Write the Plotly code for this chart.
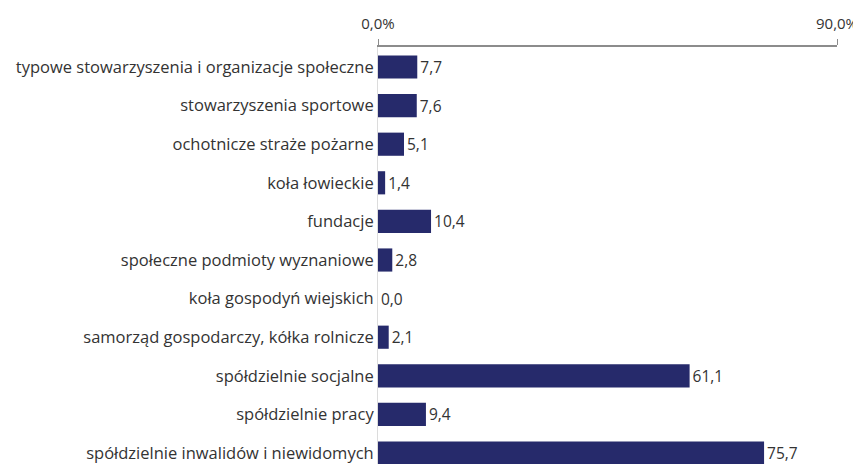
import plotly.graph_objects as go

categories = [
    "typowe stowarzyszenia i organizacje społeczne",
    "stowarzyszenia sportowe",
    "ochotnicze straże pożarne",
    "koła łowieckie",
    "fundacje",
    "społeczne podmioty wyznaniowe",
    "koła gospodyń wiejskich",
    "samorząd gospodarczy, kółka rolnicze",
    "spółdzielnie socjalne",
    "spółdzielnie pracy",
    "spółdzielnie inwalidów i niewidomych",
]
values = [7.7, 7.6, 5.1, 1.4, 10.4, 2.8, 0.0, 2.1, 61.1, 9.4, 75.7]
x_tick_vals = [0, 90]
x_tick_text = ["0,0%", "90,0%"]

labels = [f"{v:.1f}".replace(".", ",") for v in values]
idx = list(range(len(categories)))

FONT = "Open Sans"
TXT = "#333333"

fig = go.Figure(go.Bar(
    x=values,
    y=idx,
    orientation="h",
    marker=dict(color="#262A6B", line=dict(width=0)),
    width=0.6,
    text=labels,
    textposition="outside",
    textfont=dict(family=FONT, size=15.5, color=TXT),
    cliponaxis=False,
    hoverinfo="skip",
))

fig.update_layout(
    width=853,
    height=456,
    margin=dict(l=370, r=24, t=39, b=0, autoexpand=False),
    paper_bgcolor="white",
    plot_bgcolor="white",
    showlegend=False,
    font=dict(family=FONT, size=15, color=TXT),
    xaxis=dict(
        side="top",
        range=[0, 90],
        tickvals=x_tick_vals,
        ticktext=x_tick_text,
        showgrid=False,
        zeroline=False,
        showline=True,
        linecolor="#8c8c8c",
        linewidth=1.5,
        ticks="outside",
        ticklen=6,
        tickcolor="#8c8c8c",
        tickfont=dict(family=FONT, size=15, color=TXT),
        ticklabelstandoff=4,
        fixedrange=True,
        automargin=False,
    ),
    yaxis=dict(
        range=[10.285, -0.518],
        tickvals=idx,
        ticktext=categories,
        showgrid=False,
        zeroline=False,
        showline=True,
        linecolor="#dcdcdc",
        linewidth=1,
        ticks="",
        tickfont=dict(family=FONT, size=16.5, color=TXT),
        fixedrange=True,
        automargin=False,
    ),
)

fig.write_html("out.html")
